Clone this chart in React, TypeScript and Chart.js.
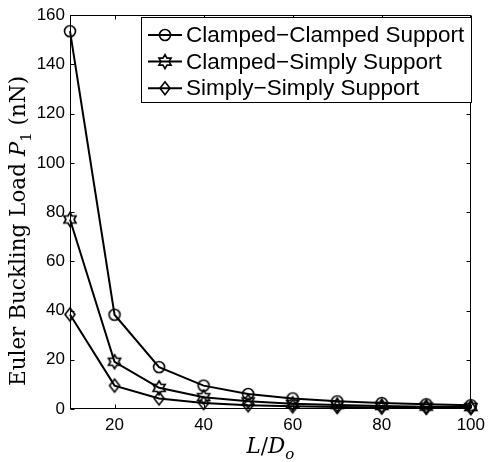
import React, { useEffect, useRef } from "react";
import { Chart, registerables } from "chart.js";

Chart.register(...registerables);

// ---- data ----
const lengthRatios = [10, 20, 30, 40, 50, 60, 70, 80, 90, 100];
const clampedClamped = [153.5, 38.3, 17.0, 9.5, 6.1, 4.3, 3.1, 2.4, 1.9, 1.5];
const clampedSimply = [77.0, 19.2, 8.6, 4.8, 3.1, 2.1, 1.6, 1.2, 0.95, 0.77];
const simplySimply = [38.4, 9.5, 4.3, 2.4, 1.5, 1.07, 0.78, 0.6, 0.47, 0.38];
const seriesLabels = [
  "Clamped\u2212Clamped Support",
  "Clamped\u2212Simply Support",
  "Simply\u2212Simply Support",
];
const xTickValues = [20, 40, 60, 80, 100];
const yTickValues = [0, 20, 40, 60, 80, 100, 120, 140, 160];

type MarkerKind = "circle" | "hexagram" | "diamond";
const markerKinds: MarkerKind[] = ["circle", "hexagram", "diamond"];
const seriesValues = [clampedClamped, clampedSimply, simplySimply];

function traceMarker(ctx: CanvasRenderingContext2D, kind: MarkerKind, x: number, y: number) {
  ctx.beginPath();
  if (kind === "circle") {
    ctx.arc(x, y, 5.5, 0, Math.PI * 2);
  } else if (kind === "diamond") {
    ctx.moveTo(x, y - 6.5);
    ctx.lineTo(x + 5, y);
    ctx.lineTo(x, y + 6.5);
    ctx.lineTo(x - 5, y);
    ctx.closePath();
  } else {
    const R = 7;
    const r = R / Math.sqrt(3);
    for (let i = 0; i < 12; i++) {
      const a = -Math.PI / 2 + (i * Math.PI) / 6;
      const rad = i % 2 === 0 ? R : r;
      const px = x + rad * Math.cos(a);
      const py = y + rad * Math.sin(a);
      if (i === 0) ctx.moveTo(px, py);
      else ctx.lineTo(px, py);
    }
    ctx.closePath();
  }
  ctx.stroke();
}

function markerImage(kind: MarkerKind): HTMLCanvasElement {
  const c = document.createElement("canvas");
  c.width = 20;
  c.height = 20;
  const ctx = c.getContext("2d")!;
  ctx.strokeStyle = "#000";
  ctx.lineWidth = 1.6;
  traceMarker(ctx, kind, 10, 10);
  return c;
}

type Part = { t: string; italic?: boolean; sub?: boolean };

function drawParts(
  ctx: CanvasRenderingContext2D,
  parts: Part[],
  size: number,
  family: string
) {
  const fontFor = (p: Part) =>
    `${p.italic ? "italic " : ""}${p.sub ? Math.round(size * 0.7) : size}px ${family}`;
  let total = 0;
  const widths = parts.map((p) => {
    ctx.font = fontFor(p);
    const w = ctx.measureText(p.t).width;
    total += w;
    return w;
  });
  let cx = -total / 2;
  parts.forEach((p, i) => {
    ctx.font = fontFor(p);
    ctx.fillText(p.t, cx, p.sub ? size * 0.28 : 0);
    cx += widths[i];
  });
}

const decorPlugin = {
  id: "decor",
  afterDraw(chart: any) {
    const ctx: CanvasRenderingContext2D = chart.ctx;
    const { left, right, top, bottom } = chart.chartArea;
    const xs = chart.scales.x;
    const ys = chart.scales.y;
    ctx.save();
    ctx.strokeStyle = "#000";
    ctx.lineWidth = 1;
    const L = Math.round(left) + 0.5;
    const R = Math.round(right) - 0.5;
    const T = Math.round(top) + 0.5;
    const B = Math.round(bottom) - 0.5;
    ctx.strokeRect(L, T, R - L, B - T);
    const tl = 4;
    ctx.beginPath();
    xTickValues.forEach((v) => {
      const px = Math.round(xs.getPixelForValue(v)) + 0.5;
      ctx.moveTo(px, B);
      ctx.lineTo(px, B - tl);
      ctx.moveTo(px, T);
      ctx.lineTo(px, T + tl);
    });
    yTickValues.forEach((v) => {
      const py = Math.round(ys.getPixelForValue(v)) + 0.5;
      ctx.moveTo(L, py);
      ctx.lineTo(L + tl, py);
      ctx.moveTo(R, py);
      ctx.lineTo(R - tl, py);
    });
    ctx.stroke();

    // y title
    ctx.fillStyle = "#000";
    ctx.textBaseline = "alphabetic";
    ctx.textAlign = "left";
    const family = "'DejaVu Serif'";
    const yParts: Part[] = [
      { t: "Euler Buckling Load " },
      { t: "P", italic: true },
      { t: "1", sub: true },
      { t: " (nN)" },
    ];
    const titleSize = 21.5;
    ctx.save();
    ctx.translate(25, 231);
    ctx.rotate(-Math.PI / 2);
    drawParts(ctx, yParts, titleSize, family);
    ctx.restore();

    // x title
    const xParts: Part[] = [
      { t: "L", italic: true },
      { t: "/" },
      { t: "D", italic: true },
      { t: "o", italic: true, sub: true },
    ];
    ctx.save();
    ctx.translate((left + right) / 2, 453);
    drawParts(ctx, xParts, titleSize, family);
    ctx.restore();

    // legend
    const bx = 141.5, by = 17.5, bw = 330, bh = 85;
    ctx.fillStyle = "#fff";
    ctx.fillRect(bx, by, bw, bh);
    ctx.strokeStyle = "#000";
    ctx.lineWidth = 1;
    ctx.strokeRect(bx, by, bw, bh);
    ctx.font = "22.5px 'Liberation Sans'";
    ctx.textBaseline = "middle";
    ctx.fillStyle = "#000";
    seriesLabels.forEach((label, i) => {
      const y = 35 + i * 26.6;
      ctx.lineWidth = 2;
      ctx.beginPath();
      ctx.moveTo(148, y);
      ctx.lineTo(182, y);
      ctx.stroke();
      ctx.lineWidth = 1.6;
      traceMarker(ctx, markerKinds[i], 165, y);
      ctx.fillText(label, 186, y + 1);
    });
    ctx.restore();
  },
};

export default function App() {
  const canvasRef = useRef<HTMLCanvasElement | null>(null);

  useEffect(() => {
    const canvas = canvasRef.current;
    if (!canvas) return;
    const tickFont = { family: "'Liberation Sans'", size: 17 };
    const chart = new Chart(canvas, {
      type: "line",
      data: {
        datasets: seriesValues.map((vals, i) => ({
          label: seriesLabels[i],
          data: lengthRatios.map((x, j) => ({ x, y: vals[j] })),
          borderColor: "#000",
          backgroundColor: "transparent",
          borderWidth: 2,
          pointStyle: markerImage(markerKinds[i]) as any,
          pointRadius: 7,
          tension: 0,
          clip: false as any,
        })),
      },
      options: {
        responsive: false,
        maintainAspectRatio: false,
        devicePixelRatio: 1,
        animation: false,
        layout: { padding: { top: 13, right: 16, left: 0, bottom: 0 } },
        plugins: {
          legend: { display: false },
          tooltip: { enabled: false },
        },
        scales: {
          x: {
            type: "linear",
            min: 10,
            max: 100,
            grid: { display: false, drawTicks: false, tickLength: 0 },
            border: { display: false },
            afterBuildTicks: (s: any) => {
              s.ticks = xTickValues.map((v) => ({ value: v }));
            },
            afterFit: (s: any) => {
              s.height = 53;
            },
            ticks: {
              font: tickFont,
              color: "#000",
              padding: 6,
              maxRotation: 0,
              autoSkip: false,
            },
          },
          y: {
            type: "linear",
            min: 0,
            max: 160,
            grid: { display: false, drawTicks: false, tickLength: 0 },
            border: { display: false },
            afterBuildTicks: (s: any) => {
              s.ticks = yTickValues.map((v) => ({ value: v }));
            },
            afterFit: (s: any) => {
              s.width = 70;
            },
            ticks: {
              font: tickFont,
              color: "#000",
              padding: 5,
              autoSkip: false,
            },
          },
        },
      },
      plugins: [decorPlugin],
    });
    return () => chart.destroy();
  }, []);

  return (
    <div
      style={{
        position: "fixed",
        left: 0,
        top: 0,
        width: 491,
        height: 462,
        background: "#fff",
      }}
    >
      <canvas ref={canvasRef} width={491} height={462} style={{ display: "block" }} />
    </div>
  );
}
